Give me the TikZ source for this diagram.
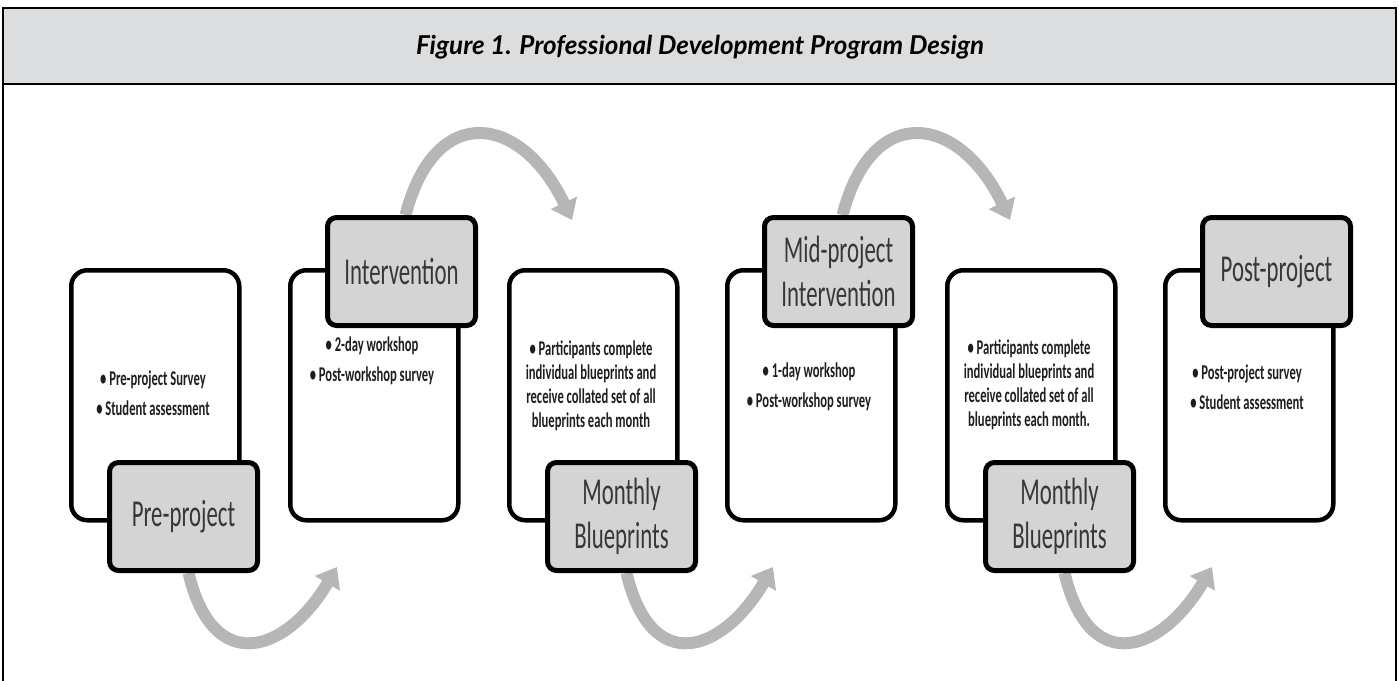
\documentclass[tikz,border=0pt]{standalone}
\usepackage{fontspec}
\usetikzlibrary{arrows.meta,calc}
\newfontfamily\headfont{Carlito}[FakeStretch=0.6]
\newfontfamily\bodyfont{Carlito}[FakeStretch=0.6]
\newfontfamily\titlefont{Lato}
\definecolor{bandgray}{RGB}{220,221,223}
\definecolor{boxgray}{RGB}{212,212,212}
\definecolor{headtext}{RGB}{55,55,55}
\definecolor{bodytext}{RGB}{30,30,30}
\definecolor{arrowgray}{RGB}{182,182,182}
\pgfdeclarelayer{back}
\pgfsetlayers{back,main}
\begin{document}
\begin{tikzpicture}[x=1pt,y=-1pt,
  whitebox/.style={draw=black, line width=4.5pt, rounded corners=16pt, fill=white,
    minimum width=168pt, minimum height=250pt, anchor=north west, inner sep=0pt},
  graybox/.style={draw=black, line width=5pt, rounded corners=9pt, fill=boxgray,
    minimum width=148pt, minimum height=108pt, anchor=north west, inner sep=0pt,
    font=\headfont\fontsize{38}{44}\selectfont, text=headtext, align=center},
  bullets/.style={font=\bodyfont\bfseries\fontsize{21}{24}\selectfont, text=bodytext,
    align=center, inner sep=0pt},
  flow/.style={draw=arrowgray, line width=12pt, -{Triangle[width=28pt,length=19pt]}}
]
\useasboundingbox (0,0) rectangle (1399,680);
% frame and title band
\fill[bandgray] (3,8) rectangle (1396,84);
\draw[line width=2pt] (3,84) -- (1396,84);
\draw[line width=2.5pt] (3,700) |- (1396,8) -- (1396,700);
\node[font=\titlefont\bfseries\itshape\fontsize{26}{30}\selectfont] (title) at (700,47)
  {Figure 1. Professional Development Program Design};

% white boxes
\node[whitebox] (w1) at (69,268) {};
\node[whitebox] (w2) at (288,268) {};
\node[whitebox] (w3) at (507,268) {};
\node[whitebox] (w4) at (725,268) {};
\node[whitebox] (w5) at (945,268) {};
\node[whitebox] (w6) at (1163,268) {};

% bullet texts
\node[bullets] (t1) at (153,393) {• Pre-project Survey\\[6pt]• Student assessment};
\node[bullets] (t2) at (372,361) {• 2-day workshop\\[6pt]• Post-workshop survey};
\node[bullets] (t3) at (591,386) {• Participants complete\\individual blueprints and\\receive collated set of all\\blueprints each month};
\node[bullets] (t4) at (809,387) {• 1-day workshop\\[6pt]• Post-workshop survey};
\node[bullets] (t5) at (1029,385) {• Participants complete\\individual blueprints and\\receive collated set of all\\blueprints each month.};
\node[bullets] (t6) at (1247,387) {• Post-project survey\\[6pt]• Student assessment};

% arrow end points
\coordinate (e1) at (337,567);
\coordinate (e2) at (572,220);
\coordinate (e3) at (773,567);
\coordinate (e4) at (1010,220);
\coordinate (e5) at (1212,567);

% gray heading boxes
\node[graybox] (g1) at (107,460) {Pre-project};
\node[graybox] (g2) at (325,215) {Intervention};
\node[graybox] (g3) at (545,460) {Monthly\\Blueprints};
\node[graybox] (g4) at (762,215) {Mid-project\\Intervention};
\node[graybox] (g5) at (983,460) {Monthly\\Blueprints};
\node[graybox] (g6) at (1200,215) {Post-project};

% arrows (behind the boxes)
\begin{pgfonlayer}{back}
\draw[flow] ([xshift=5pt]g1.south) .. controls +(25,105) and +(-50,85) .. (e1);
\draw[flow] ([xshift=5pt]g3.south) .. controls +(25,105) and +(-50,85) .. (e3);
\draw[flow] ([xshift=5pt]g5.south) .. controls +(25,105) and +(-50,85) .. (e5);
\draw[flow] ([xshift=4pt]g2.north) .. controls +(30,-115) and +(-50,-105) .. (e2);
\draw[flow] ([xshift=4pt]g4.north) .. controls +(30,-115) and +(-50,-105) .. (e4);
\end{pgfonlayer}
\end{tikzpicture}
\end{document}
